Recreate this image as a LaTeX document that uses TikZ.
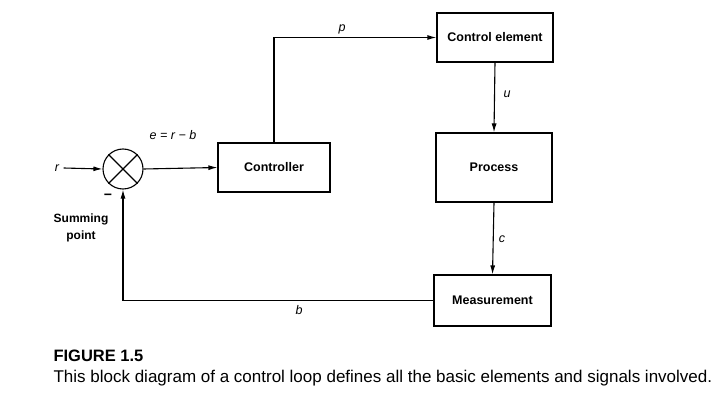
\documentclass[tikz,border=0pt]{standalone}
\usepackage{fontspec}
\setsansfont{Liberation Sans}
\usetikzlibrary{arrows.meta,positioning}
\tikzset{every path/.style={black,line width=1.1pt},
 block/.style={draw,rectangle,inner sep=0pt,font=\sffamily\bfseries\fontsize{12.5}{14}\selectfont},
 sig/.style={inner sep=1pt,font=\sffamily\itshape\fontsize{12.5}{15}\selectfont},
 wire/.style={-{Latex[length=9pt,width=5pt]}}}

\begin{document}
\begin{tikzpicture}[x=1pt,y=-1pt]
  \useasboundingbox (0,0) rectangle (720,406);
  \node[draw,circle,minimum size=40pt,inner sep=0pt] (sum) at (123,169) {};
  \draw (sum.north east) -- (sum.south west);
  \draw (sum.north west) -- (sum.south east);
  \node[block,minimum width=112pt,minimum height=49pt] (ctrl) at (274,167.5) {Controller};
  \node[block,minimum width=116pt,minimum height=49pt] (elem) at (495,37.5) {Control element};
  \node[block,minimum width=116pt,minimum height=69pt] (proc) at (494,167.5) {Process};
  \node[block,minimum width=117pt,minimum height=51pt] (meas) at (492.5,300.5) {Measurement};
  \node[sig] (r) at (57,168) {r};
  \draw[wire] (r.east) ++(3pt,0) -- (sum.west);
  \draw[wire] (sum.east) -- (ctrl.west);
  \draw[wire] (ctrl.north) |- (elem.west);
  \draw[wire] (elem.south) -- (proc.north);
  \draw[wire] (proc.south) -- (meas.north);
  \draw[wire] (meas.west) -| (sum.south);
  \node[sig] at (173,135) {e = r − b};
  \node[sig] at (342,29) {p};
  \node[sig] at (507,94) {u};
  \node[sig] at (502,239) {c};
  \node[sig] at (299,310) {b};
  \node[sig,font=\sffamily\bfseries\fontsize{14}{15}\selectfont] at (108,197) {−};
  \node[align=center,font=\sffamily\bfseries\fontsize{12}{17}\selectfont] at (81,228) {Summing\\point};
  \node[anchor=west,inner sep=0pt,font=\sffamily\bfseries\fontsize{16.5}{18}\selectfont] (fig) at (53,356) {FIGURE 1.5};
  \node[anchor=west,inner sep=0pt,font=\sffamily\fontsize{17}{19}\selectfont] (cap) at (53,378) {This block diagram of a control loop defines all the basic elements and signals involved.};
\end{tikzpicture}
\end{document}
